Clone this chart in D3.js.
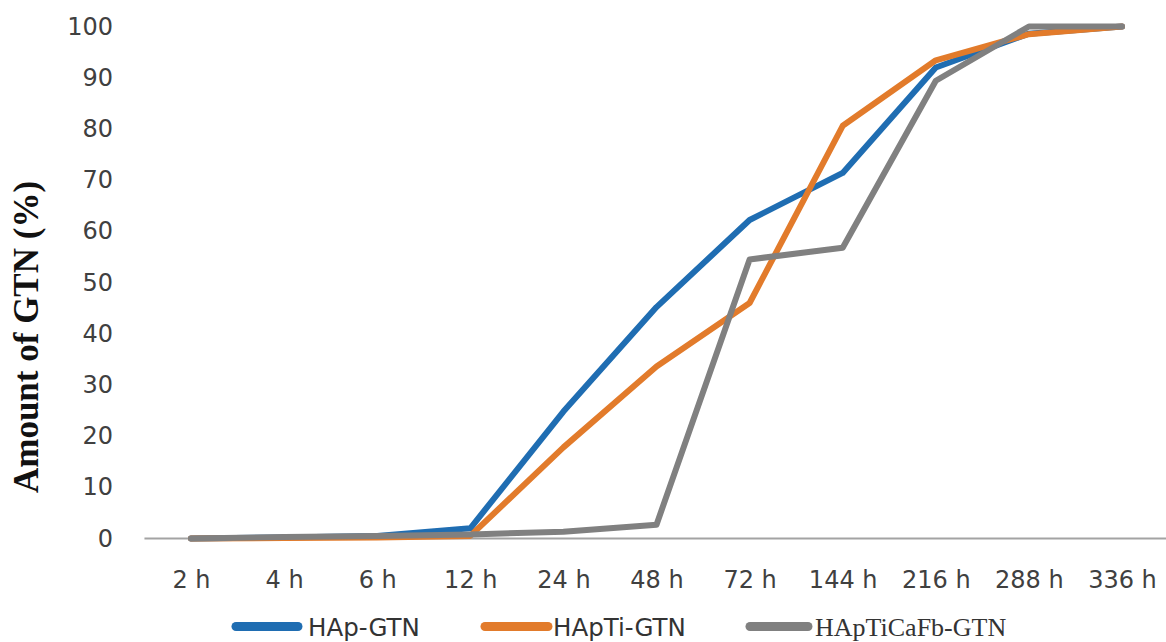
<!DOCTYPE html>
<html>
<head>
<meta charset="utf-8">
<script src="https://cdn.jsdelivr.net/npm/d3@7"></script>
<style>
  html, body { margin: 0; padding: 0; background: #ffffff; }
  svg { display: block; }
</style>
</head>
<body>
<svg id="chart" width="1166" height="642"></svg>
<script>
// Release time points
const categories = ["2 h", "4 h", "6 h", "12 h", "24 h", "48 h", "72 h", "144 h", "216 h", "288 h", "336 h"];

// Cumulative amount of GTN released (%)
const hapGtn       = [0, 0.2, 0.5, 2.0, 24.8, 45.2, 62.2, 71.4, 92.0, 98.6, 100];
const hapTiGtn     = [0, 0.1, 0.2, 0.5, 17.8, 33.6, 46.0, 80.6, 93.4, 98.5, 100];
const hapTiCaFbGtn = [0, 0.3, 0.5, 0.8, 1.3, 2.7, 54.5, 56.8, 89.4, 100, 100];

const seriesNames = ["HAp-GTN", "HApTi-GTN", "HApTiCaFb-GTN"];
const seriesValues = [hapGtn, hapTiGtn, hapTiCaFbGtn];
const seriesColors = ["#1f6db2", "#e27b2b", "#808080"];

const yTicks = [0, 10, 20, 30, 40, 50, 60, 70, 80, 90, 100];

const svg = d3.select("#chart");
svg.append("rect").attr("width", 1166).attr("height", 642).attr("fill", "#ffffff");

const x = d3.scalePoint().domain(categories).range([191, 1122]);
const y = d3.scaleLinear().domain([0, 100]).range([538.5, 26.5]);

// Y axis: labels only
const yAxis = svg.append("g")
  .attr("transform", "translate(121,0)")
  .call(d3.axisLeft(y).tickValues(yTicks).tickSize(0).tickPadding(8));
yAxis.select(".domain").remove();
yAxis.selectAll("text")
  .attr("font-family", "DejaVu Sans, sans-serif")
  .attr("font-size", 24)
  .attr("fill", "#404040");

// X axis: category labels
const xAxis = svg.append("g")
  .attr("transform", `translate(0,${y(0)})`)
  .call(d3.axisBottom(x).tickSize(0));
xAxis.select(".domain").remove();
xAxis.selectAll("text")
  .attr("dy", null)
  .attr("y", 49.5)
  .attr("font-family", "DejaVu Sans, sans-serif")
  .attr("font-size", 24)
  .attr("fill", "#404040");

// Horizontal category axis line spanning the full category bands
svg.append("line")
  .attr("x1", x.range()[0] - x.step() / 2)
  .attr("x2", x.range()[1] + x.step() / 2)
  .attr("y1", y(0))
  .attr("y2", y(0))
  .attr("stroke", "#a3a3a3")
  .attr("stroke-width", 2);

// Series lines
const line = d3.line()
  .x((d, i) => x(categories[i]))
  .y(d => y(d));

svg.append("g")
  .selectAll("path")
  .data(seriesValues)
  .join("path")
  .attr("d", d => line(d))
  .attr("fill", "none")
  .attr("stroke", (d, i) => seriesColors[i])
  .attr("stroke-width", 6)
  .attr("stroke-linejoin", "round")
  .attr("stroke-linecap", "round");

// Y axis title
svg.append("text")
  .attr("transform", "translate(38,337) rotate(-90)")
  .attr("text-anchor", "middle")
  .attr("font-family", "Liberation Serif, Times New Roman, serif")
  .attr("font-weight", "bold")
  .attr("font-size", 35)
  .attr("fill", "#111111")
  .text("Amount of GTN (%)");

// Legend
const legendItems = [
  { x1: 236, x2: 298, tx: 308, font: "DejaVu Sans, sans-serif", size: 24.5 },
  { x1: 485, x2: 548, tx: 553, font: "DejaVu Sans, sans-serif", size: 24.5 },
  { x1: 750, x2: 808, tx: 815, font: "Liberation Serif, Times New Roman, serif", size: 26 }
];
const legend = svg.append("g");
legendItems.forEach((item, i) => {
  legend.append("line")
    .attr("x1", item.x1).attr("x2", item.x2)
    .attr("y1", 626.5).attr("y2", 626.5)
    .attr("stroke", seriesColors[i])
    .attr("stroke-width", 9)
    .attr("stroke-linecap", "round");
  legend.append("text")
    .attr("x", item.tx)
    .attr("y", 635.5)
    .attr("font-family", item.font)
    .attr("font-size", item.size)
    .attr("fill", "#333333")
    .text(seriesNames[i]);
});
</script>
</body>
</html>
